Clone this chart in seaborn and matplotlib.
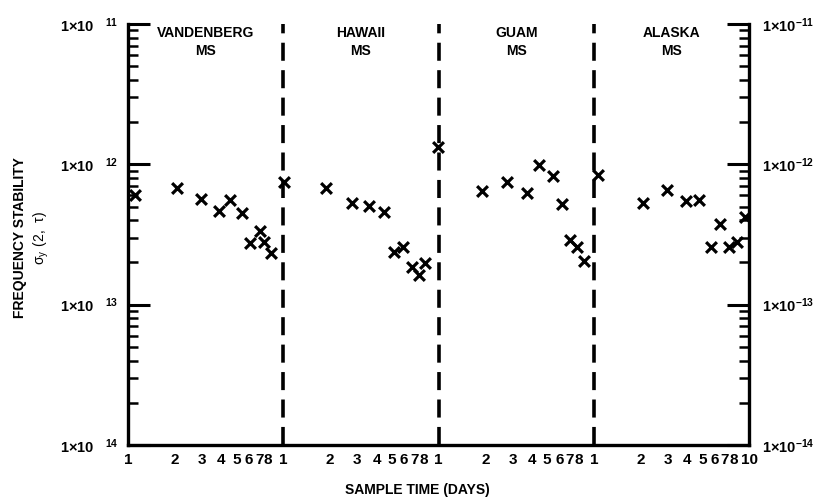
import numpy as np
import pandas as pd
import matplotlib
matplotlib.use("Agg")
import matplotlib.pyplot as plt
from matplotlib.ticker import FixedLocator, FixedFormatter
import seaborn as sns

# Station panels, each spanning one decade of sample time (1 to 10 days)
stations = ["VANDENBERG\nMS", "HAWAII\nMS", "GUAM\nMS", "ALASKA\nMS"]

vandenberg_days = [1.11, 2.07, 2.94, 3.83, 4.54, 5.44, 6.09, 7.11, 7.52, 8.29]
vandenberg_sigma = [6.0e-13, 6.8e-13, 5.7e-13, 4.65e-13, 5.55e-13, 4.5e-13,
                    2.75e-13, 3.35e-13, 2.8e-13, 2.33e-13]

hawaii_days = [1.015, 1.89, 2.77, 3.56, 4.44, 5.15, 5.88, 6.72, 7.44, 8.13]
hawaii_sigma = [7.5e-13, 6.8e-13, 5.3e-13, 5.05e-13, 4.57e-13, 2.37e-13,
                2.58e-13, 1.85e-13, 1.63e-13, 1.98e-13]

guam_days = [0.99, 1.90, 2.78, 3.72, 4.46, 5.44, 6.23, 7.04, 7.84, 8.59]
guam_sigma = [1.33e-12, 6.45e-13, 7.5e-13, 6.25e-13, 9.9e-13, 8.25e-13,
              5.2e-13, 2.88e-13, 2.58e-13, 2.05e-13]

alaska_days = [1.06, 2.08, 2.95, 3.95, 4.73, 5.69, 6.53, 7.38, 8.34, 9.41]
alaska_sigma = [8.4e-13, 5.3e-13, 6.55e-13, 5.47e-13, 5.57e-13, 2.58e-13,
                3.76e-13, 2.58e-13, 2.79e-13, 4.21e-13]

# Tick labels
x_major_labels = ["1", "1", "1", "1", "10"]
x_minor_labels = ["2", "3", "4", "5", "6", "7", "8", ""]
y_left_labels = ["1\u00d710   $^{14}$", "1\u00d710   $^{13}$",
                 "1\u00d710   $^{12}$", "1\u00d710   $^{11}$"]
y_right_labels = ["1\u00d710$^{-14}$", "1\u00d710$^{-13}$",
                  "1\u00d710$^{-12}$", "1\u00d710$^{-11}$"]

sns.set_style("white")
plt.rcParams["font.family"] = ["Liberation Sans", "DejaVu Sans"]
plt.rcParams["font.weight"] = "bold"
plt.rcParams["mathtext.default"] = "regular"
for key in ("text.color", "axes.labelcolor", "xtick.color", "ytick.color", "axes.edgecolor"):
    plt.rcParams[key] = "black"

# Lay the four stations end to end on one logarithmic axis
series = [(vandenberg_days, vandenberg_sigma), (hawaii_days, hawaii_sigma),
          (guam_days, guam_sigma), (alaska_days, alaska_sigma)]
frames = []
for i, (days, sigma) in enumerate(series):
    frames.append(pd.DataFrame({
        "station": stations[i],
        "position": np.asarray(days) * 10.0 ** i,
        "sigma": sigma,
    }))
df = pd.concat(frames, ignore_index=True)

fig = plt.figure(figsize=(8.27, 4.99), dpi=100)
ax = fig.add_axes([0.1548, 0.1082, 0.7509, 0.8437])

sns.scatterplot(data=df, x="position", y="sigma", marker="x", color="black",
                s=60, linewidth=2.3, ax=ax, legend=False, zorder=4)

ax.set_xscale("log")
ax.set_yscale("log")
ax.set_xlim(1, 1e4)
ax.set_ylim(1e-14, 1e-11)
ax.set_xlabel("")
ax.set_ylabel("")

# Dashed separators between stations
for k in range(1, 4):
    ax.axvline(10.0 ** k, color="black", lw=2.6, ls=(0, (5, 2.6)), zorder=3)

# Station names
for i, name in enumerate(stations):
    ax.text(np.sqrt(10) * 10.0 ** i, 0.995, name, transform=ax.get_xaxis_transform(),
            ha="center", va="top", fontsize=10, fontweight="bold", linespacing=1.35)

# x axis: repeated 1..8 day ticks per decade
x_major = [10.0 ** k for k in range(5)]
x_minor = [j * 10.0 ** k for k in range(4) for j in range(2, 10)]
ax.xaxis.set_major_locator(FixedLocator(x_major))
ax.xaxis.set_major_formatter(FixedFormatter(x_major_labels))
ax.xaxis.set_minor_locator(FixedLocator(x_minor))
ax.xaxis.set_minor_formatter(FixedFormatter(x_minor_labels * 4))

# y axis ticks
y_major = [1e-14, 1e-13, 1e-12, 1e-11]
y_minor = [j * 10.0 ** k for k in range(-14, -11) for j in range(2, 10)]
ax.yaxis.set_major_locator(FixedLocator(y_major))
ax.yaxis.set_major_formatter(FixedFormatter(y_left_labels))
ax.yaxis.set_minor_locator(FixedLocator(y_minor))
ax.yaxis.set_minor_formatter(FixedFormatter([""] * len(y_minor)))

ax2 = ax.twinx()
ax2.set_yscale("log")
ax2.set_ylim(1e-14, 1e-11)
ax2.yaxis.set_major_locator(FixedLocator(y_major))
ax2.yaxis.set_major_formatter(FixedFormatter(y_right_labels))
ax2.yaxis.set_minor_locator(FixedLocator(y_minor))
ax2.yaxis.set_minor_formatter(FixedFormatter([""] * len(y_minor)))

for a in (ax, ax2):
    a.spines["top"].set_visible(False)
    for side in ("left", "right", "bottom"):
        a.spines[side].set_linewidth(2.4)
        a.spines[side].set_color("black")
ax2.spines["left"].set_visible(False)
ax2.spines["bottom"].set_visible(False)
ax.spines["right"].set_visible(False)

ax.tick_params(axis="x", which="major", direction="in", length=11, width=1.8,
               labelsize=11, pad=6, top=False, colors="black")
ax.tick_params(axis="x", which="minor", direction="in", length=5, width=1.8,
               labelsize=11, pad=6, top=False, colors="black")
ax.tick_params(axis="y", which="major", direction="in", length=16, width=2.2,
               labelsize=10.5, pad=7, right=False, colors="black")
ax.tick_params(axis="y", which="minor", direction="in", length=7, width=1.8,
               right=False, colors="black")
ax2.tick_params(axis="y", which="major", direction="in", length=16, width=2.2,
                labelsize=10.5, pad=9, left=False, colors="black")
ax2.tick_params(axis="y", which="minor", direction="in", length=7, width=1.8,
                left=False, colors="black")

for lab in ax.get_xticklabels(which="both") + ax.get_yticklabels() + ax2.get_yticklabels():
    lab.set_fontweight("bold")

# Axis titles
fig.text(20 / 827, 1 - 238 / 499, "FREQUENCY STABILITY", rotation=90,
         ha="center", va="center", fontsize=10, fontweight="bold")
fig.text(41 / 827, 1 - 238 / 499, r"$\sigma_y\ (2,\ \tau)$", rotation=90,
         ha="center", va="center", fontsize=10, fontweight="normal")
fig.text(417 / 827, 1 - 490 / 499, "SAMPLE TIME (DAYS)", ha="center", va="center",
         fontsize=10, fontweight="bold")

fig.savefig("out.png", dpi=100, facecolor="white")
